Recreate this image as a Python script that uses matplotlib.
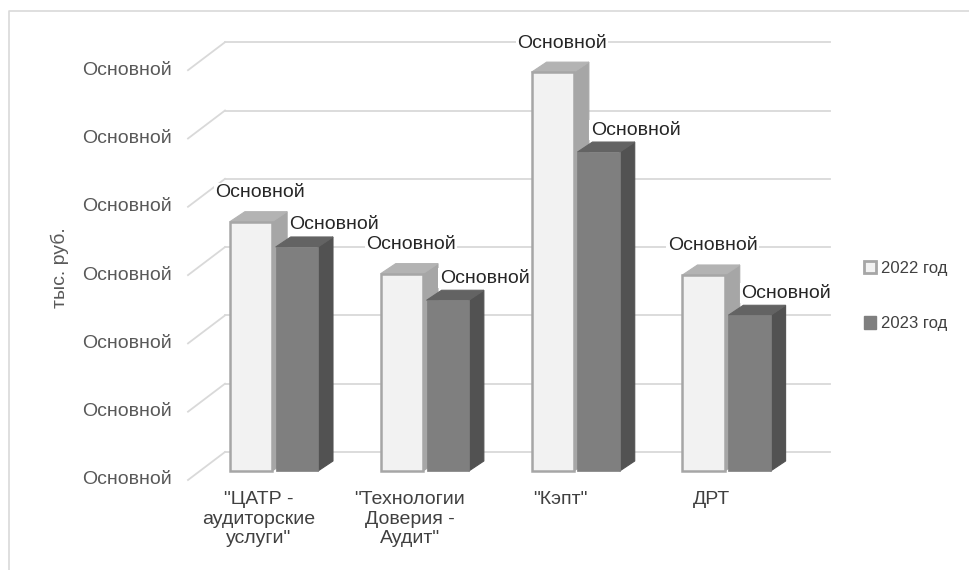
import matplotlib
matplotlib.use('Agg')
import matplotlib.pyplot as plt
from matplotlib.patches import Polygon, Patch
from matplotlib.lines import Line2D

plt.rcParams['font.family'] = ['Liberation Sans', 'DejaVu Sans']

# ---- data ----
categories = ['"ЦАТР -\nаудиторские\nуслуги"', '"Технологии\nДоверия -\nАудит"', '"Кэпт"', 'ДРТ']
series_names = ['2022 год', '2023 год']
values_2022 = [3.65, 2.89, 5.84, 2.87]
values_2023 = [3.28, 2.50, 4.67, 2.28]
y_ticks = [0, 1, 2, 3, 4, 5, 6]
tick_label = 'Основной'
data_label = 'Основной'
y_title = 'тыс. руб.'

# ---- layout ----
W, H = 970, 570
fig = plt.figure(figsize=(W / 100, H / 100), dpi=100)
L, R, B, T = 200, 805, 471, 61.2
XLO, XHI = -0.49, 3.52
ax = fig.add_axes([L / W, (H - B) / H, (R - L) / W, (B - T) / H])
ax.set_xlim(XLO, XHI)
ax.set_ylim(min(y_ticks), max(y_ticks))
ax.axis('off')

px_x = (XHI - XLO) / (R - L)
px_y = (max(y_ticks) - min(y_ticks)) / (B - T)


def off(dx, dy):
    return dx * px_x, dy * px_y


BACK = off(25, 19)
FRONT = off(-12, -9)
DEPTH = off(15, 10)
grid_c = '#d9d9d9'

# back wall gridlines + left wall diagonals + tick labels
for k in y_ticks:
    ax.plot([XLO + BACK[0], XHI + BACK[0]], [k + BACK[1], k + BACK[1]],
            color=grid_c, lw=1.3, clip_on=False, zorder=1)
    ax.plot([XLO + BACK[0], XLO + FRONT[0]], [k + BACK[1], k + FRONT[1]],
            color=grid_c, lw=1.3, clip_on=False, zorder=1)
    ax.annotate(tick_label, xy=(XLO, k), xytext=(-12 - 16, -9),
                textcoords='offset pixels', ha='right', va='center',
                fontsize=14, color='#595959', annotation_clip=False)

width = 0.28
shift = 0.152
styles = [
    dict(front='#f2f2f2', edge='#a6a6a6', top='#b3b3b3', side='#a6a6a6', lw=1.8),
    dict(front='#7f7f7f', edge='#7f7f7f', top='#636363', side='#525252', lw=0.5),
]
label_off = [(9, 29), (37, 22)]
series = [values_2022, values_2023]

for s, (vals, st) in enumerate(zip(series, styles)):
    xs = [i + (2 * s - 1) * shift for i in range(len(categories))]
    z = 2 + 2 * s
    for x, v in zip(xs, vals):
        x0, x1 = x - width / 2, x + width / 2
        dx, dy = DEPTH
        top = Polygon([(x0, v), (x1, v), (x1 + dx, v + dy), (x0 + dx, v + dy)],
                      closed=True, facecolor=st['top'], edgecolor=st['top'],
                      lw=0.8, zorder=z, clip_on=False)
        side = Polygon([(x1, 0), (x1, v), (x1 + dx, v + dy), (x1 + dx, dy)],
                       closed=True, facecolor=st['side'], edgecolor=st['side'],
                       lw=0.8, zorder=z, clip_on=False)
        ax.add_patch(side)
        ax.add_patch(top)
        ax.annotate(data_label, xy=(x, v), xytext=label_off[s],
                    textcoords='offset pixels', ha='center', va='center',
                    fontsize=14, color='#262626', zorder=7,
                    bbox=dict(facecolor='white', edgecolor='none', pad=1.0),
                    annotation_clip=False)
    ax.bar(xs, vals, width=width, color=st['front'], edgecolor=st['edge'],
           linewidth=st['lw'], zorder=z + 1, clip_on=False)

# category labels
for i, c in enumerate(categories):
    ax.annotate(c, xy=(i, 0), xytext=(-15, -20), textcoords='offset pixels',
                ha='center', va='top', fontsize=14, color='#404040',
                linespacing=1.2, annotation_clip=False)

# y title
fig.text(60 / W, 1 - 268 / H, y_title, rotation=90, ha='center', va='center',
         fontsize=14, color='#595959')

# legend
handles = [Patch(facecolor=styles[0]['front'], edgecolor=styles[0]['edge'], linewidth=2),
           Patch(facecolor=styles[1]['front'], edgecolor=styles[1]['front'])]
fig.legend(handles, series_names, loc='center left',
           bbox_to_anchor=(849 / W, 1 - 296 / H), frameon=False, fontsize=12,
           labelspacing=2.45, handlelength=0.75, handleheight=0.75,
           handletextpad=0.3, labelcolor='#404040')

# chart outer border
fig.add_artist(Line2D([9 / W, 9 / W, 1], [0, 1 - 11 / H, 1 - 11 / H],
                      transform=fig.transFigure, color='#d9d9d9', lw=1.2))

fig.savefig('out.png', dpi=100, facecolor='white')
